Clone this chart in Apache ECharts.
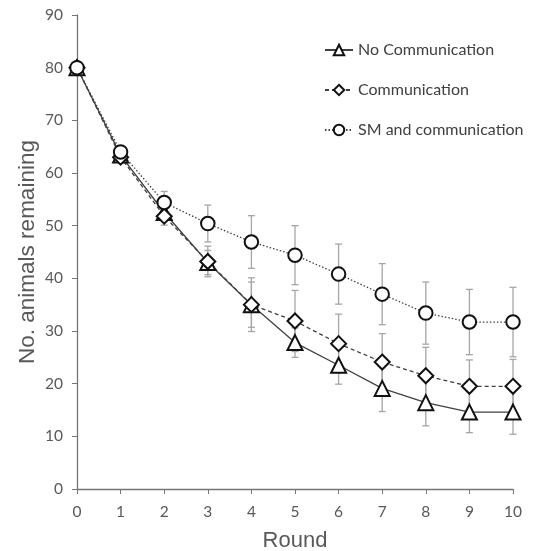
<!DOCTYPE html>
<html>
<head>
<meta charset="utf-8">
<script src="https://cdn.jsdelivr.net/npm/echarts@6/dist/echarts.min.js"></script>
<style>html,body{margin:0;padding:0;background:#fff}#c{width:534px;height:551px}</style>
</head>
<body>
<div id="c"></div>
<script>
var rounds = [0, 1, 2, 3, 4, 5, 6, 7, 8, 9, 10];
var seriesNames = ['No Communication', 'Communication', 'SM and communication'];
var noComm = [80, 63.4, 52.5, 43, 35, 27.8, 23.5, 19.1, 16.4, 14.6, 14.6];
var noCommErr = [0, 0.5, 1.2, 2.3, 4.3, 2.8, 3.6, 4.4, 4.4, 3.9, 4.2];
var comm = [80, 63, 51.8, 43.2, 35, 31.9, 27.6, 24.1, 21.5, 19.5, 19.5];
var commErr = [0, 0.5, 1.7, 2.9, 5.1, 5.8, 5.6, 5.4, 5.4, 5.0, 5.1];
var smComm = [80, 64, 54.4, 50.4, 46.9, 44.4, 40.8, 37.0, 33.4, 31.7, 31.7];
var smCommErr = [0, 0.5, 2.1, 3.5, 5.0, 5.6, 5.7, 5.8, 5.9, 6.2, 6.6];
var yTicks = [0, 10, 20, 30, 40, 50, 60, 70, 80, 90];

var chart = echarts.init(document.getElementById('c'), null, {renderer: 'canvas'});

function errData(vals, errs) {
  return rounds.map(function (r, i) { return [r, vals[i] - errs[i], vals[i] + errs[i]]; });
}
function errSeries(vals, errs) {
  return {
    type: 'custom',
    z: 1,
    silent: true,
    data: errData(vals, errs),
    encode: {x: 0, y: [1, 2]},
    renderItem: function (params, api) {
      var lo = api.coord([api.value(0), api.value(1)]);
      var hi = api.coord([api.value(0), api.value(2)]);
      if (Math.abs(lo[1] - hi[1]) < 1) return null;
      var w = 3.5;
      var st = {stroke: '#a6a6a6', lineWidth: 1.3};
      return {
        type: 'group',
        children: [
          {type: 'line', shape: {x1: lo[0], y1: lo[1], x2: hi[0], y2: hi[1]}, style: st},
          {type: 'line', shape: {x1: lo[0] - w, y1: lo[1], x2: lo[0] + w, y2: lo[1]}, style: st},
          {type: 'line', shape: {x1: hi[0] - w, y1: hi[1], x2: hi[0] + w, y2: hi[1]}, style: st}
        ]
      };
    }
  };
}
function lineSeries(name, vals, symbol, size, type) {
  return {
    name: name,
    type: 'line',
    z: 3,
    data: rounds.map(function (r, i) { return [r, vals[i]]; }),
    symbol: symbol,
    symbolSize: size,
    showAllSymbol: true,
    lineStyle: {color: '#404040', width: 1.3, type: type},
    itemStyle: {color: '#ffffff', borderColor: '#111111', borderWidth: 2},
    emphasis: {disabled: true},
    animation: false
  };
}

var tickFont = 'Lato, "Open Sans", sans-serif';
chart.setOption({
  animation: false,
  backgroundColor: '#ffffff',
  grid: {left: 77, right: 21, top: 15, bottom: 62, containLabel: false, outerBoundsMode: 'none'},
  legend: {
    orient: 'vertical',
    left: 319,
    top: 37,
    itemWidth: 28,
    itemHeight: 13,
    itemGap: 24,
    textStyle: {color: '#404040', fontSize: 16, fontFamily: tickFont},
    data: seriesNames
  },
  xAxis: {
    type: 'value', min: 0, max: 10, interval: 1,
    name: 'Round', nameLocation: 'middle', nameGap: 41, nameMoveOverlap: false,
    nameTextStyle: {color: '#595959', fontSize: 22, fontFamily: 'Liberation Sans, Arial, sans-serif'},
    axisLine: {show: true, lineStyle: {color: '#767676', width: 1.3}},
    axisTick: {show: true, inside: false, length: 5, lineStyle: {color: '#767676'}},
    axisLabel: {color: '#595959', fontSize: 15.5, fontFamily: tickFont, margin: 15},
    splitLine: {show: false}
  },
  yAxis: {
    type: 'value', min: yTicks[0], max: yTicks[yTicks.length - 1], interval: 10,
    name: 'No. animals remaining', nameLocation: 'middle', nameGap: 38, nameMoveOverlap: false,
    nameTextStyle: {color: '#595959', fontSize: 22.5, fontFamily: 'Liberation Sans, Arial, sans-serif'},
    axisLine: {show: true, lineStyle: {color: '#767676', width: 1.3}},
    axisTick: {show: true, inside: false, length: 5, lineStyle: {color: '#767676'}},
    axisLabel: {color: '#595959', fontSize: 15.5, fontFamily: tickFont, margin: 14},
    splitLine: {show: false}
  },
  series: [
    errSeries(noComm, noCommErr),
    errSeries(comm, commErr),
    errSeries(smComm, smCommErr),
    lineSeries(seriesNames[0], noComm, 'triangle', 15, 'solid'),
    lineSeries(seriesNames[1], comm, 'diamond', 15, [4, 3]),
    lineSeries(seriesNames[2], smComm, 'circle', 13.5, [1.5, 2])
  ]
});
</script>
</body>
</html>
